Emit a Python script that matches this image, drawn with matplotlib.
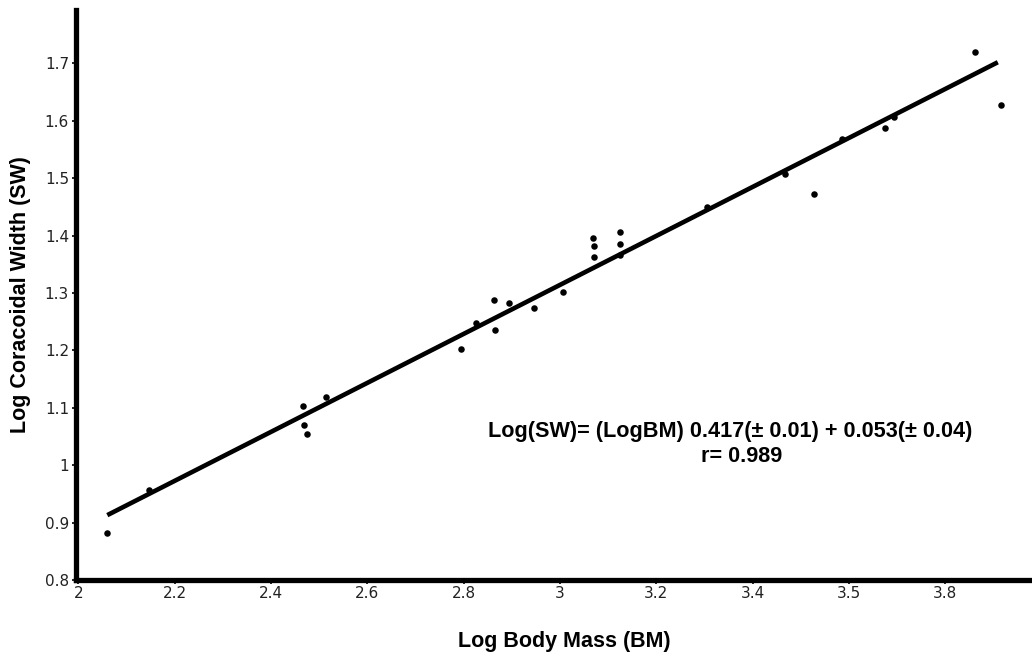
import matplotlib
matplotlib.use("Agg")
import matplotlib.pyplot as plt

# Data
log_bm = [2.059, 2.146, 2.467, 2.515, 2.468, 2.475, 2.795, 2.825, 2.863, 2.866,
          2.894, 2.947, 3.007, 3.069, 3.070, 3.071, 3.124, 3.124, 3.124, 3.305,
          3.467, 3.528, 3.586, 3.674, 3.693, 3.862, 3.915]
log_sw = [0.882, 0.957, 1.103, 1.118, 1.070, 1.054, 1.203, 1.247, 1.288, 1.235,
          1.283, 1.274, 1.301, 1.396, 1.381, 1.363, 1.407, 1.386, 1.366, 1.449,
          1.508, 1.472, 1.568, 1.588, 1.607, 1.720, 1.627]

fit_x = [2.060, 3.909]
fit_y = [0.913, 1.702]

x_ticks = [2.0, 2.2, 2.4, 2.6, 2.8, 3.0, 3.2, 3.4, 3.6, 3.8]
x_tick_labels = ["2", "2.2", "2.4", "2.6", "2.8", "3", "3.2", "3.4", "3.5", "3.8"]
y_ticks = [0.8, 0.9, 1.0, 1.1, 1.2, 1.3, 1.4, 1.5, 1.6, 1.7]
y_tick_labels = ["0.8", "0.9", "1", "1.1", "1.2", "1.3", "1.4", "1.5", "1.6", "1.7"]

eq_line1 = "Log(SW)= (LogBM) 0.417(\u00b1 0.01) + 0.053(\u00b1 0.04)"
eq_line2 = "r= 0.989"

W, H = 1032, 654
fig = plt.figure(figsize=(W / 100, H / 100), dpi=100)
ax = fig.add_axes([76 / W, 1 - 580 / H, (W - 76) / W, (580 - 10) / H])

ax.plot(fit_x, fit_y, color="black", lw=3.3, solid_capstyle="butt", zorder=2)
ax.scatter(log_bm, log_sw, s=22, color="black", zorder=3, linewidths=0)

ax.set_xlim(1.995, 3.98)
ax.set_ylim(0.8, 1.793)

ax.set_xticks(x_ticks)
ax.set_xticklabels(x_tick_labels)
ax.set_yticks(y_ticks)
ax.set_yticklabels(y_tick_labels)

for s in ["top", "right"]:
    ax.spines[s].set_visible(False)
for s in ["left", "bottom"]:
    ax.spines[s].set_linewidth(3.8)
    ax.spines[s].set_color("black")

ax.tick_params(axis="both", direction="out", length=3, width=1.2,
               labelsize=11, colors="black", pad=2)
ax.tick_params(axis="x", pad=1)
for lbl in ax.get_xticklabels() + ax.get_yticklabels():
    lbl.set_color("#222222")

label_font = dict(family="Liberation Sans", weight="bold", size=15.5)
ax.set_ylabel("Log Coracoidal Width (SW)", labelpad=10, **label_font)
fig.text(564 / W, 1 - 647 / H, "Log Body Mass (BM)", ha="center", va="baseline",
         **label_font)

fig.text(730 / W, 1 - 436.7 / H, eq_line1, ha="center", va="baseline",
         family="Liberation Sans", weight="bold", size=15.6)
fig.text(742 / W, 1 - 461.7 / H, eq_line2, ha="center", va="baseline",
         family="Liberation Sans", weight="bold", size=15.6)

fig.savefig("out.png", dpi=100)
